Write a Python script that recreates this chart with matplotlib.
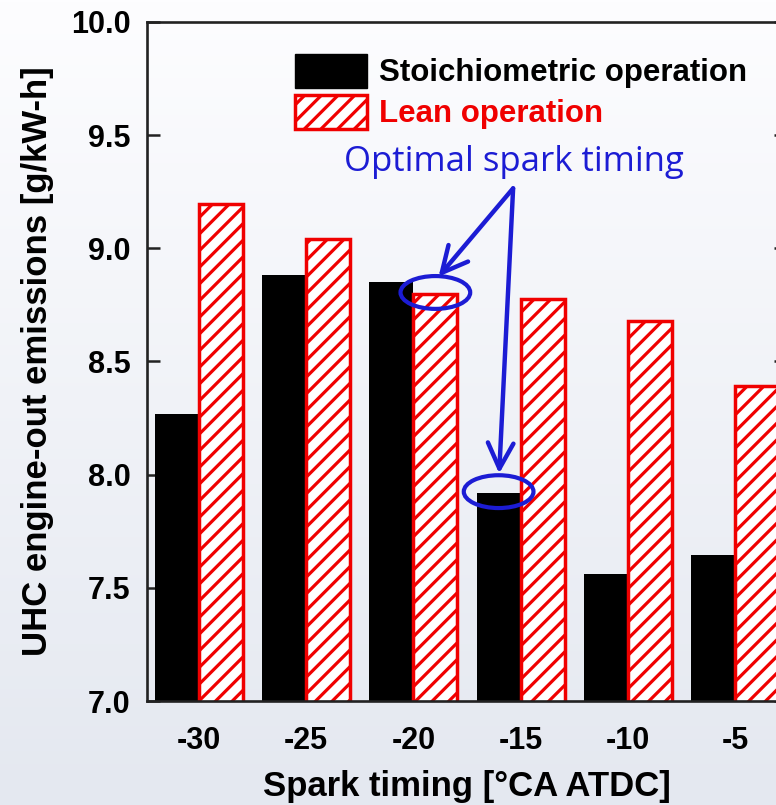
import numpy as np
import matplotlib
matplotlib.use('Agg')
import matplotlib.pyplot as plt
from matplotlib.patches import Ellipse, Patch
from matplotlib.colors import LinearSegmentedColormap

# data
timing = ['-30', '-25', '-20', '-15', '-10', '-5']
stoich = [8.27, 8.88, 8.85, 7.92, 7.56, 7.645]
lean = [9.195, 9.04, 8.80, 8.775, 8.68, 8.39]

# colours / fonts
RED = '#f00000'
BLUE = '#1c1cd4'
plt.rcParams['font.family'] = ['Liberation Sans', 'DejaVu Sans']
plt.rcParams['font.weight'] = 'bold'
plt.rcParams['hatch.linewidth'] = 2.3

fig = plt.figure(figsize=(7.76, 8.05), dpi=100)

# light gradient background
bg = fig.add_axes([0, 0, 1, 1], zorder=-5)
grad = np.linspace(0, 1, 256).reshape(-1, 1)
cmap = LinearSegmentedColormap.from_list('bg', ['#fdfdff', '#e4e8f0'])
bg.imshow(grad, aspect='auto', cmap=cmap, extent=[0, 1, 0, 1])
bg.axis('off')

ax = fig.add_axes([147 / 776, 104 / 805, 640 / 776, 679 / 805])
ax.patch.set_alpha(0)

x = np.arange(len(timing))
w = 0.41
ax.bar(x - w / 2, stoich, w, color='black', edgecolor='black', lw=0, zorder=2)
ax.bar(x + w / 2, lean, w, color='white', edgecolor=RED, hatch='//', lw=2.5, zorder=2)

ax.set_ylim(7.0, 10.0)
ax.set_xlim(-0.484, 5.484)
ax.set_yticks(np.arange(7.0, 10.01, 0.5))
ax.set_xticks(x)
ax.set_xticklabels(timing)
ax.tick_params(axis='y', direction='in', length=9.5, width=1.8, labelsize=22, pad=12,
               right=True, colors='#222222', labelcolor='black')
ax.tick_params(axis='x', length=0, labelsize=22, pad=18)
for s in ax.spines.values():
    s.set_linewidth(1.9)
    s.set_color('#222222')

ax.set_xlabel('Spark timing [°CA ATDC]', fontsize=25, fontweight='bold', labelpad=10)
ax.set_ylabel('UHC engine-out emissions [g/kW-h]', fontsize=25, fontweight='bold', labelpad=12)

# legend
handles = [Patch(facecolor='black', edgecolor='black'),
           Patch(facecolor='white', edgecolor=RED, hatch='//', lw=2.5)]
leg = fig.legend(handles, ['Stoichiometric operation', 'Lean operation'],
                 loc='upper left', bbox_to_anchor=(295 / 776, 1 - 54 / 805),
                 frameon=False, handlelength=2.3, handleheight=1.3,
                 handletextpad=0.4, labelspacing=0.2, borderpad=0, borderaxespad=0,
                 prop={'weight': 'bold', 'size': 22.5})
leg.get_texts()[1].set_color(RED)

# optimal spark timing annotation
ax.text(2.94, 9.38, 'Optimal spark timing', color=BLUE, fontsize=25,
        fontweight='normal', family=['Open Sans', 'DejaVu Sans'], ha='center', va='center')
e1 = (x[2] + w / 2, lean[2])
e2 = (x[3] - w / 2, stoich[3])
for ex, ey in (e1, e2):
    ax.add_patch(Ellipse((ex, ey + 0.005), 0.65, 0.145, fill=False, ec=BLUE, lw=3, zorder=4))
start = (2.93, 9.265)
arrow = dict(arrowstyle='->', color=BLUE, lw=3.2, mutation_scale=46, shrinkA=0, shrinkB=0)
ax.annotate('', xy=(e1[0] + 0.03, e1[1] + 0.075), xytext=start, arrowprops=arrow)
ax.annotate('', xy=(e2[0] + 0.005, e2[1] + 0.085), xytext=start, arrowprops=arrow)

fig.savefig('out.png', dpi=100)
